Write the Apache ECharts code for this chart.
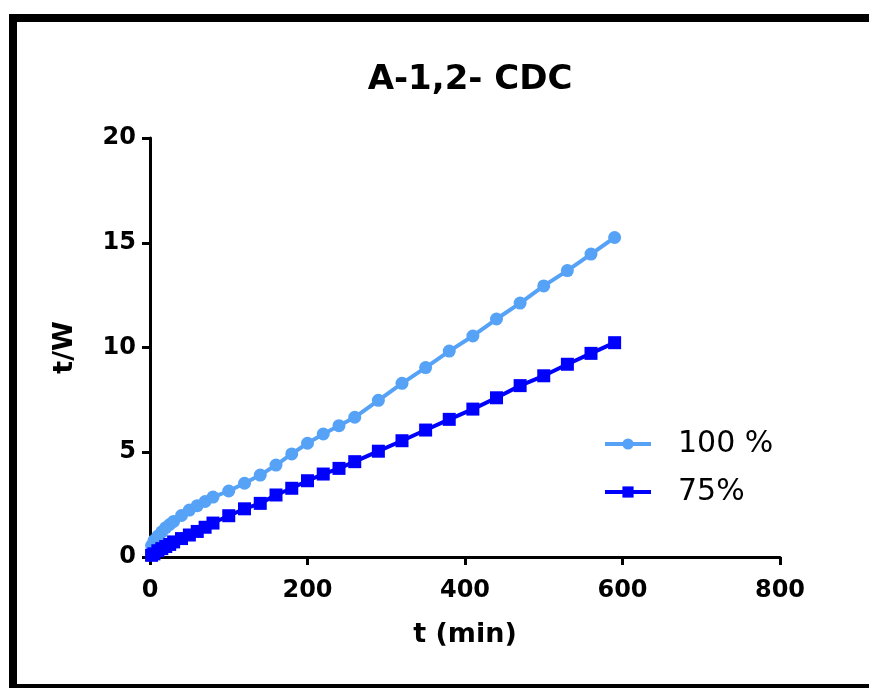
<!DOCTYPE html>
<html>
<head>
<meta charset="utf-8">
<script src="https://cdn.jsdelivr.net/npm/echarts@6/dist/echarts.min.js"></script>
<style>
  html, body { margin: 0; padding: 0; background: #fff; }
  #chart { width: 869px; height: 688px; }
</style>
</head>
<body>
<div id="chart"></div>
<script>
// Sampling times (min)
const times = [2, 5, 10, 15, 20, 25, 30, 40, 50, 60, 70, 80, 100, 120, 140, 160, 180, 200, 220, 240, 260, 290, 320, 350, 380, 410, 440, 470, 500, 530, 560, 590];
// t/W at 100 %
const full = [0.55, 0.78, 1.0, 1.2, 1.4, 1.55, 1.7, 1.98, 2.24, 2.45, 2.65, 2.86, 3.15, 3.52, 3.91, 4.39, 4.92, 5.43, 5.87, 6.27, 6.67, 7.48, 8.29, 9.04, 9.83, 10.55, 11.36, 12.12, 12.94, 13.67, 14.46, 15.25];
// t/W at 75 %
const part = [0.08, 0.15, 0.3, 0.4, 0.5, 0.6, 0.72, 0.88, 1.05, 1.22, 1.42, 1.62, 1.97, 2.3, 2.56, 2.96, 3.28, 3.64, 3.96, 4.23, 4.55, 5.05, 5.55, 6.06, 6.57, 7.06, 7.60, 8.18, 8.65, 9.20, 9.72, 10.23];
const seriesNames = ['100 %', '75%'];
const xTicks = { min: 0, max: 800, step: 200 };
const yTicks = { min: 0, max: 20, step: 5 };

const pairs = (xs, ys) => xs.map((x, i) => [x, ys[i]]);

const font = '"DejaVu Sans", "Liberation Sans", Arial, sans-serif';
const axisCommon = {
  axisLine: { show: true, lineStyle: { color: '#000', width: 3 } },
  axisTick: { show: true, inside: false, length: 8, lineStyle: { color: '#000', width: 3 } },
  axisLabel: { color: '#000', fontFamily: font, fontWeight: 'bold', fontSize: 24, margin: 14 },
  splitLine: { show: false },
  nameTextStyle: { color: '#000', fontFamily: font, fontWeight: 'bold', fontSize: 27 }
};

const chart = echarts.init(document.getElementById('chart'));
chart.setOption({
  backgroundColor: '#fff',
  animation: false,
  title: {
    text: 'A-1,2- CDC',
    left: 465, top: 58, textAlign: 'center',
    textStyle: { color: '#000', fontFamily: font, fontWeight: 'bold', fontSize: 34 }
  },
  graphic: [
    { type: 'rect', shape: { x: 9, y: 14, width: 870, height: 8 }, style: { fill: '#000' } },
    { type: 'rect', shape: { x: 9, y: 14, width: 8, height: 674 }, style: { fill: '#000' } },
    { type: 'rect', shape: { x: 9, y: 684, width: 870, height: 4 }, style: { fill: '#000' } }
  ],
  grid: { left: 150, right: 89, top: 138, bottom: 131, containLabel: false },
  legend: {
    orient: 'vertical', left: 598, top: 424,
    itemWidth: 46, itemHeight: 14, itemGap: 18,
    lineStyle: { width: 4 },
    textStyle: { color: '#000', fontFamily: font, fontSize: 30, padding: [0, 0, 0, 22] },
    data: seriesNames
  },
  xAxis: Object.assign({}, axisCommon, {
    type: 'value', min: xTicks.min, max: xTicks.max, interval: xTicks.step,
    name: 't (min)', nameLocation: 'middle', nameGap: 64,
    axisLabel: Object.assign({}, axisCommon.axisLabel, { margin: 22 })
  }),
  yAxis: Object.assign({}, axisCommon, {
    type: 'value', min: yTicks.min, max: yTicks.max, interval: yTicks.step,
    name: 't/W', nameLocation: 'middle', nameGap: 72, nameRotate: 90
  }),
  series: [
    {
      name: seriesNames[0], type: 'line', data: pairs(times, full),
      symbol: 'circle', symbolSize: 13,
      lineStyle: { color: '#55A2F7', width: 4 },
      itemStyle: { color: '#55A2F7' }
    },
    {
      name: seriesNames[1], type: 'line', data: pairs(times, part),
      symbol: 'rect', symbolSize: 13,
      lineStyle: { color: '#0000FF', width: 4 },
      itemStyle: { color: '#0000FF' }
    }
  ]
});
</script>
</body>
</html>
